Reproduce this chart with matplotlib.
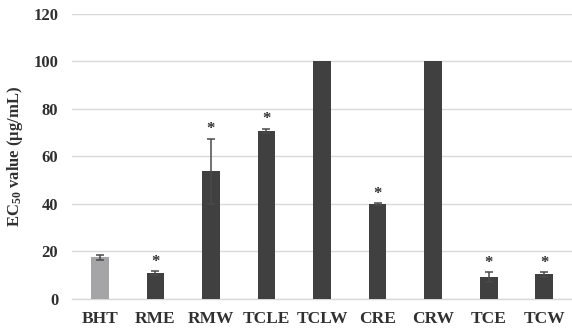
import matplotlib
matplotlib.use("Agg")
import matplotlib.pyplot as plt
import numpy as np

categories = ["BHT", "RME", "RMW", "TCLE", "TCLW", "CRE", "CRW", "TCE", "TCW"]
values = [17.6, 10.9, 53.7, 70.7, 100, 40.0, 100, 9.3, 10.4]
errors = [1.0, 0.8, 13.7, 1.0, 0, 0.3, 0, 2.0, 1.0]
significant = [False, True, True, True, False, True, False, True, True]
yticks = [0, 20, 40, 60, 80, 100, 120]

plt.rcParams['font.family'] = ['Liberation Serif', 'DejaVu Serif']
plt.rcParams['mathtext.fontset'] = 'custom'
plt.rcParams['mathtext.rm'] = 'Liberation Serif:bold'
plt.rcParams['mathtext.it'] = 'Liberation Serif:bold'
plt.rcParams['mathtext.bf'] = 'Liberation Serif:bold'

fig = plt.figure(figsize=(5.72, 3.30), dpi=100)
ax = fig.add_axes([0.126, 0.094, 0.874, 0.864])

colors = ["#a5a5a7"] + ["#404040"] * (len(categories) - 1)
x = np.arange(len(categories))
ax.bar(x, values, width=0.32, color=colors, zorder=3)

err_idx = [i for i, e in enumerate(errors) if e > 0]
xe = x[err_idx]
ve = np.array(values)[err_idx]
ee = np.array(errors)[err_idx]
ax.errorbar(xe, ve, yerr=[ee, ee], fmt='none',
            ecolor="#4a4a4a", elinewidth=1.1, capsize=3, capthick=1.1, zorder=4)

for xi, v, e, s in zip(x, values, errors, significant):
    if s:
        ax.annotate("*", (xi, v + e), xytext=(0, 1), textcoords="offset points",
                    ha="center", va="bottom", fontsize=12, fontweight="bold",
                    color="#303030")

ax.set_xlim(-0.5, len(categories) - 0.5)
ax.set_ylim(0, 120)
ax.set_yticks(yticks)
ax.set_xticks(x)
ax.set_xticklabels(categories, fontsize=12.5, fontweight="bold", color="#303030")
ax.set_yticklabels([str(t) for t in yticks], fontsize=12, fontweight="bold", color="#303030")
ax.tick_params(axis="x", length=0, pad=9)
ax.tick_params(axis="y", length=0, pad=10)
ax.grid(axis="y", color="#d9d9d9", linewidth=1.0, zorder=0)
for sp in ["left", "right", "top"]:
    ax.spines[sp].set_visible(False)
ax.spines["bottom"].set_color("#d9d9d9")
ax.spines["bottom"].set_linewidth(1.0)

ax.set_ylabel(r"EC$_{50}$ value (μg/mL)", fontsize=12, fontweight="bold",
              color="#303030")
ax.yaxis.set_label_coords(-0.094, 0.5)

fig.savefig("out.png", dpi=100, facecolor="white")
